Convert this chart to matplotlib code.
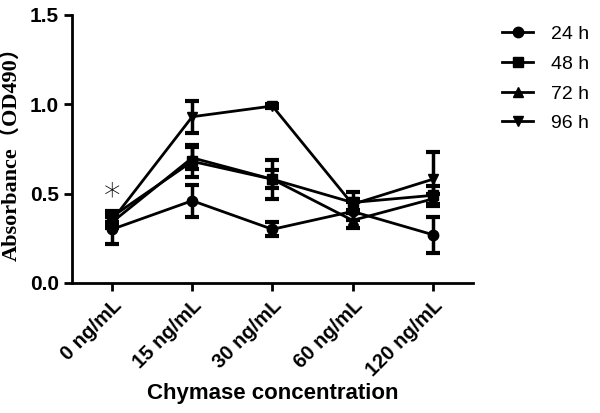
import numpy as np
import matplotlib
matplotlib.use('Agg')
import matplotlib.pyplot as plt

## Data
conc = ['0 ng/mL', '15 ng/mL', '30 ng/mL', '60 ng/mL', '120 ng/mL']
h24 = [0.30, 0.46, 0.30, 0.40, 0.27]
h24_err = [0.08, 0.09, 0.04, 0.05, 0.10]
h48 = [0.37, 0.68, 0.58, 0.45, 0.49]
h48_err = [0.03, 0.09, 0.11, 0.06, 0.05]
h72 = [0.34, 0.70, 0.58, 0.35, 0.47]
h72_err = [0.03, 0.06, 0.05, 0.04, 0.03]
h96 = [0.35, 0.93, 0.99, 0.44, 0.58]
h96_err = [0.03, 0.09, 0.01, 0.03, 0.15]

series = [('24 h', h24, h24_err, 'o'),
          ('48 h', h48, h48_err, 's'),
          ('72 h', h72, h72_err, '^'),
          ('96 h', h96, h96_err, 'v')]

plt.rcParams['font.family'] = ['Liberation Sans', 'DejaVu Sans']

fig = plt.figure(figsize=(6, 4.13), dpi=100)
ax = fig.add_axes([0.12, 0.315, 0.668, 0.649])

x = np.arange(len(conc))
for name, y, e, mk in series:
    # error bars drawn separately so the legend shows only line + marker
    ax.errorbar(x, y, yerr=e, fmt='none', ecolor='black',
                capsize=5, capthick=3, elinewidth=2.5)
    ax.plot(x, y, marker=mk, color='black', lw=2, ms=7.5, label=name)

ax.text(0, 0.48, '*', ha='center', va='center', fontsize=24,
        family='DejaVu Sans', fontweight='light')

ax.set_xlim(-0.5, 4.5)
ax.set_ylim(0, 1.5)
ax.set_yticks([0.0, 0.5, 1.0, 1.5])
ax.set_yticklabels(['0.0', '0.5', '1.0', '1.5'], fontweight='bold', fontsize=15)
ax.set_xticks(x)
ax.set_xticklabels(conc, rotation=45, ha='right', rotation_mode='anchor',
                   fontweight='bold', fontsize=14.5)
ax.spines['top'].set_visible(False)
ax.spines['right'].set_visible(False)
ax.spines['left'].set_linewidth(2)
ax.spines['bottom'].set_linewidth(2)
ax.tick_params(width=2, length=6)

ax.set_ylabel('Absorbance（OD490）', fontsize=16, fontweight='bold',
              family=['Liberation Serif', 'Noto Sans CJK SC'], labelpad=6)
ax.set_xlabel('Chymase concentration', fontsize=16, fontweight='bold', labelpad=2)

ax.legend(loc='upper left', bbox_to_anchor=(1.03, 1.025), frameon=False,
          fontsize=14, handlelength=1.6, handletextpad=0.9, labelspacing=0.62)

fig.savefig('out.png', dpi=100)
